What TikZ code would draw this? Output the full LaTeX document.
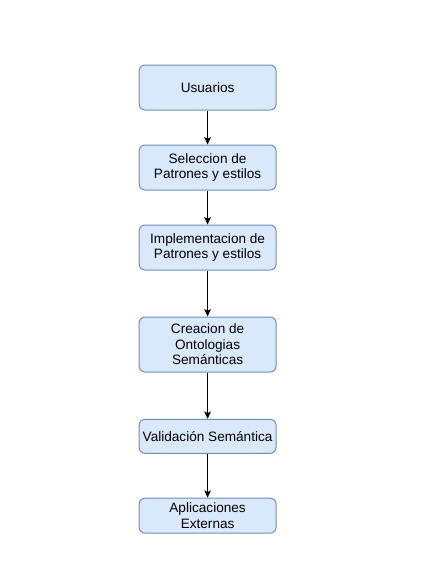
\documentclass[tikz,border=0pt]{standalone}
\usepackage{fontspec}
\setmainfont{Liberation Sans}
\usetikzlibrary{arrows.meta}
\definecolor{boxfill}{HTML}{DAE8FC}
\definecolor{boxdraw}{HTML}{6C8EBF}
\begin{document}
\begin{tikzpicture}[x=0.75pt,y=-0.75pt,
  box/.style={draw=boxdraw,fill=boxfill,line width=0.75pt,rounded corners=4.5pt,
    minimum width=102.75pt,align=center,inner sep=0pt,font=\fontsize{10.2}{11.6}\selectfont},
  link/.style={-{Stealth[length=5.5pt,width=5pt,inset=1.2pt]},line width=0.75pt,black}]
\useasboundingbox (0,0) rectangle (433,576);
\node[box,minimum height=33.75pt] (u) at (207.6,87.5) {Usuarios};
\node[box,minimum height=33.75pt] (s) at (207.6,167.5) {Seleccion de\\Patrones y estilos};
\node[box,minimum height=33.75pt] (i) at (207.6,247.5) {Implementacion de\\Patrones y estilos};
\node[box,minimum height=41.25pt] (c) at (207.6,344.5) {Creacion de\\Ontologias\\Semánticas};
\node[box,minimum height=25.5pt] (v) at (207.6,436.3) {Validación Semántica};
\node[box,minimum height=26.25pt] (a) at (207.6,515.7) {Aplicaciones\\Externas};
\draw[link] (u) -- (s);
\draw[link] (s) -- (i);
\draw[link] (i) -- (c);
\draw[link] (c) -- (v);
\draw[link] (v) -- (a);
\end{tikzpicture}
\end{document}
